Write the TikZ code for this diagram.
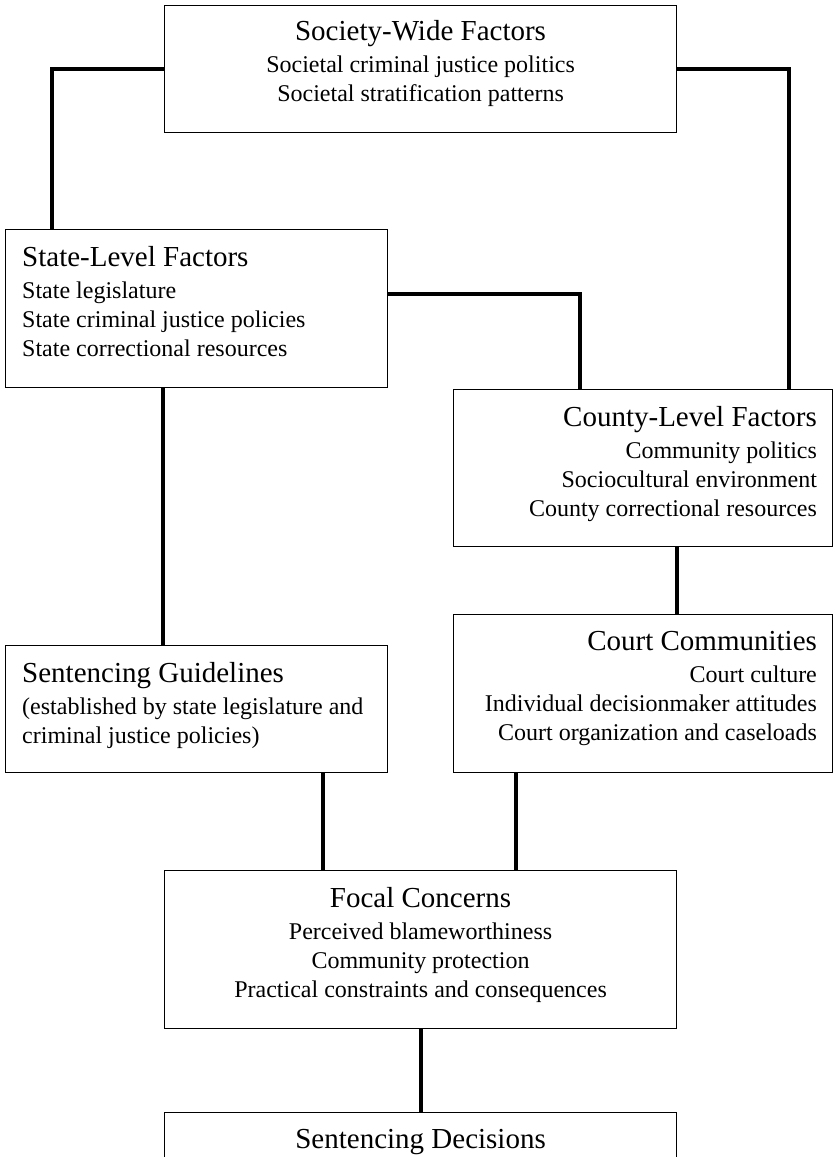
\documentclass[tikz,border=0pt]{standalone}
\usepackage{fontspec}
\setmainfont{Liberation Serif}
\usetikzlibrary{positioning,calc}

\begin{document}
\begin{tikzpicture}[
  x=1pt, y=-1pt,
  factor/.style={draw, line width=1.1pt, anchor=north west, inner sep=0pt},
  link/.style={line width=4pt},
  txt/.style={inner sep=0pt, font=\fontsize{24}{29}\selectfont},
]
\newcommand{\ttl}[1]{{\fontsize{29}{33}\selectfont #1}\\[3pt]}

\clip (0,0) rectangle (835,1157);

% =====================================================================
% BOXES
% =====================================================================
\node[factor, minimum width=512pt, minimum height=127pt] (society) at (164,5) {};
\node[factor, minimum width=382pt, minimum height=158pt] (state)   at (5,229) {};
\node[factor, minimum width=379pt, minimum height=157pt] (county)  at (453,389) {};
\node[factor, minimum width=382pt, minimum height=127pt] (guide)   at (5,645) {};
\node[factor, minimum width=379pt, minimum height=158pt] (court)   at (453,614) {};
\node[factor, minimum width=512pt, minimum height=158pt] (focal)   at (164,870) {};
\node[factor, minimum width=512pt, minimum height=100pt] (decide)  at (164,1112) {};

% =====================================================================
% TEXTS
% =====================================================================
\node[txt, align=center, anchor=north] (societyT) at ([yshift=-15pt]society.north)
  {\ttl{Society-Wide Factors}Societal criminal justice politics\\Societal stratification patterns};
\node[txt, align=left, anchor=north west] (stateT) at ([xshift=17pt,yshift=-17pt]state.north west)
  {\ttl{State-Level Factors}State legislature\\State criminal justice policies\\State correctional resources};
\node[txt, align=right, anchor=north east] (countyT) at ([xshift=-16pt,yshift=-17pt]county.north east)
  {\ttl{County-Level Factors}Community politics\\Sociocultural environment\\County correctional resources};
\node[txt, align=left, anchor=north west] (guideT) at ([xshift=17pt,yshift=-17pt]guide.north west)
  {\ttl{Sentencing Guidelines}(established by state legislature and\\criminal justice policies)};
\node[txt, align=right, anchor=north east] (courtT) at ([xshift=-16pt,yshift=-17pt]court.north east)
  {\ttl{Court Communities}Court culture\\Individual decisionmaker attitudes\\Court organization and caseloads};
\node[txt, align=center, anchor=north] (focalT) at ([yshift=-17pt]focal.north)
  {\ttl{Focal Concerns}Perceived blameworthiness\\Community protection\\Practical constraints and consequences};
\node[txt, font=\fontsize{29}{33}\selectfont, anchor=north] (decideT) at ([yshift=-17pt]decide.north)
  {Sentencing Decisions};

% =====================================================================
% LINKS
% =====================================================================
\draw[link] (society.west) -| ([xshift=47pt]state.north west);
\draw[link] (society.east) -| ([xshift=-44pt]county.north east);
\draw[link] ([yshift=15pt]state.east) -| ([xshift=127pt]county.north west);
\draw[link] ([xshift=158pt]state.south west) -- ([xshift=158pt]guide.north west);
\draw[link] ([xshift=224pt]county.south west) -- ([xshift=224pt]court.north west);
\draw[link] ([xshift=318pt]guide.south west) -- ([xshift=159pt]focal.north west);
\draw[link] ([xshift=63pt]court.south west) -- ([xshift=352pt]focal.north west);
\draw[link] (focal.south) -- (decide.north);

\end{tikzpicture}
\end{document}
